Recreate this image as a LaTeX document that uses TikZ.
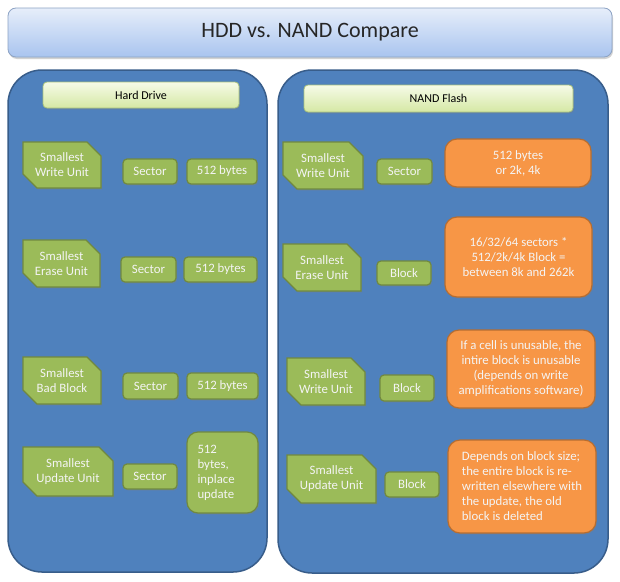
\documentclass[tikz,border=0pt]{standalone}
\usepackage{fontspec}
\setmainfont{Carlito}
\usetikzlibrary{shapes.misc,shadows}
\definecolor{panelblue}{HTML}{4F81BD}
\definecolor{panelline}{HTML}{385D8A}
\definecolor{nodegreen}{HTML}{9BBB59}
\definecolor{greenline}{HTML}{71893F}
\definecolor{nodeorange}{HTML}{F79646}
\definecolor{orangeline}{HTML}{B66D31}
\definecolor{titletop}{HTML}{E6EEFA}
\definecolor{titlebot}{HTML}{A9C4EF}
\definecolor{titleline}{HTML}{8DA3C4}
\definecolor{labtop}{HTML}{F6FBE8}
\definecolor{labbot}{HTML}{D5E8A4}
\definecolor{labline}{HTML}{A9C27A}
\definecolor{txtwhite}{HTML}{F4F4F4}
\tikzset{
  softshadow/.style={drop shadow={opacity=0.3, shadow xshift=1.2pt, shadow yshift=-1.5pt}},
  titlebox/.style={draw=titleline, line width=0.8pt, rounded corners=8pt,
    top color=titletop, bottom color=titlebot, inner sep=0pt,
    font=\fontsize{22}{26}\selectfont, text=black!85,
    drop shadow={opacity=0.35, shadow xshift=1pt, shadow yshift=-2pt}},
  panel/.style={draw=panelline, line width=1.5pt, fill=panelblue, rounded corners=34pt, inner sep=0pt},
  labelbox/.style={draw=labline, line width=0.8pt, rounded corners=4pt,
    top color=labtop, bottom color=labbot, inner sep=0pt, softshadow,
    font=\fontsize{12}{14}\selectfont, text=black},
  snipbox/.style={chamfered rectangle, chamfered rectangle corners={north east,south west},
    chamfered rectangle xsep=7pt, chamfered rectangle ysep=7pt,
    draw=greenline, line width=1.2pt, fill=nodegreen, inner sep=0pt, align=center, softshadow,
    font=\fontsize{12.8}{15}\selectfont, text=txtwhite},
  gbox/.style={draw=greenline, line width=1.2pt, fill=nodegreen, rounded corners=4pt, inner sep=0pt,
    align=center, softshadow, font=\fontsize{12.8}{15}\selectfont, text=txtwhite},
  obox/.style={draw=orangeline, line width=1.2pt, fill=nodeorange, rounded corners=12pt, inner sep=0pt,
    align=center, softshadow, font=\fontsize{12.8}{15}\selectfont, text=txtwhite},
}
\begin{document}
\begin{tikzpicture}[x=1pt,y=-1pt]
\useasboundingbox (0,0) rectangle (620,581);
\fill[white] (0,0) rectangle (620,581);
% title
\node[titlebox, minimum width=604pt, minimum height=49pt] (title) at (310,32.5) {HDD vs. NAND Compare};
% panels
\node[panel, minimum width=259pt, minimum height=502pt] (lp) at (137.5,321) {};
\node[panel, minimum width=330pt, minimum height=503pt] (rp) at (443,321.5) {};
\node[labelbox, minimum width=196pt, minimum height=26pt] (lh) at (141,95) {Hard Drive};
\node[labelbox, minimum width=269pt, minimum height=27pt] (rh) at (438.5,98.5) {NAND Flash};
% left column
\node[snipbox, minimum width=78pt, minimum height=46pt] (l1a) at (62,165) {Smallest\\Write Unit};
\node[gbox, minimum width=54pt, minimum height=25pt] (l1b) at (150,171.5) {Sector};
\node[gbox, minimum width=70pt, minimum height=25pt] (l1c) at (222,171.5) {512 bytes};
\node[snipbox, minimum width=77pt, minimum height=47pt] (l2a) at (61.5,263.5) {Smallest\\Erase Unit};
\node[gbox, minimum width=55pt, minimum height=25pt] (l2b) at (148.5,269.5) {Sector};
\node[gbox, minimum width=73pt, minimum height=25pt] (l2c) at (220.5,269.5) {512 bytes};
\node[snipbox, minimum width=78pt, minimum height=47pt] (l3a) at (62,380.5) {Smallest\\Bad Block};
\node[gbox, minimum width=55pt, minimum height=26pt] (l3b) at (150.5,386) {Sector};
\node[gbox, minimum width=71pt, minimum height=26pt] (l3c) at (222.5,386) {512 bytes};
\node[snipbox, minimum width=90pt, minimum height=49pt] (l4a) at (68,471.5) {Smallest\\Update Unit};
\node[gbox, minimum width=54pt, minimum height=25pt] (l4b) at (150,476.5) {Sector};
\node[gbox, rounded corners=11pt, minimum width=71pt, minimum height=81pt, text width=50pt, align=left] (l4c) at (222.5,472.5) {512\\bytes,\\inplace\\update};
% right column
\node[snipbox, minimum width=80pt, minimum height=47pt] (r1a) at (323,165.5) {Smallest\\Write Unit};
\node[gbox, minimum width=55pt, minimum height=25pt] (r1b) at (404.5,171.5) {Sector};
\node[obox, minimum width=146pt, minimum height=48pt] (r1c) at (518,163) {512 bytes\\or 2k, 4k};
\node[snipbox, minimum width=78pt, minimum height=47pt] (r2a) at (322,267.5) {Smallest\\Erase Unit};
\node[gbox, minimum width=54pt, minimum height=24pt] (r2b) at (404,273) {Block};
\node[obox, minimum width=147pt, minimum height=80pt] (r2c) at (518.5,257) {16/32/64 sectors *\\512/2k/4k Block =\\between 8k and 262k};
\node[snipbox, minimum width=78pt, minimum height=47pt] (r3a) at (326,381.5) {Smallest\\Write Unit};
\node[gbox, minimum width=54pt, minimum height=26pt] (r3b) at (407,388) {Block};
\node[obox, minimum width=148pt, minimum height=78pt] (r3c) at (521,369) {If a cell is unusable, the\\intire block is unusable\\(depends on write\\amplifications software)};
\node[snipbox, minimum width=89pt, minimum height=48pt] (r4a) at (331.5,479) {Smallest\\Update Unit};
\node[gbox, minimum width=54pt, minimum height=25pt] (r4b) at (412,484.5) {Block};
\node[obox, minimum width=148pt, minimum height=93pt, align=left] (r4c) at (522,486.5) {Depends on block size;\\the entire block is re-\\written elsewhere with\\the update, the old\\block is deleted};
\end{tikzpicture}
\end{document}
